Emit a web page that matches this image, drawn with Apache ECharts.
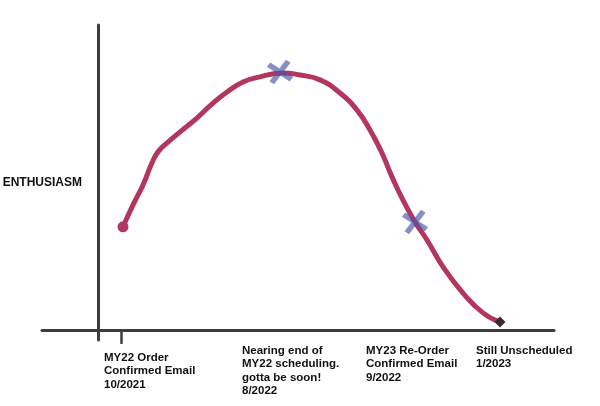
<!DOCTYPE html>
<html>
<head>
<meta charset="utf-8">
<script src="https://cdn.jsdelivr.net/npm/echarts@6/dist/echarts.min.js"></script>
<style>
html, body { margin: 0; padding: 0; background: #fff; }
#chart { width: 600px; height: 406px; }
</style>
</head>
<body>
<div id="chart"></div>
<script>
// enthusiasm curve (x: time-ish units, y: enthusiasm 0-100)
var curveX = [6.25, 8.75, 11.25, 13.5, 15, 17.5, 20.75, 24.5, 28.25, 32.25, 36.25, 40.5, 46.25, 50.5, 55.5, 60.5, 64.75, 68, 71, 73.5, 76.25, 79.25, 82.25, 86.25, 91.25, 96.25, 100.5];
var curveY = [33.8, 41.0, 47.5, 54.8, 58.4, 61.6, 65.2, 69.2, 73.8, 78.0, 81.3, 83.0, 84.3, 83.6, 82.0, 77.7, 72.1, 65.6, 58.0, 50.2, 42.6, 35.4, 29.5, 20.7, 12.1, 5.6, 2.6];

// crossed-out points
var crossX = [45.5, 79.25];
var crossY = [84.6, 35.4];

// milestone labels under the x axis
var milestoneX = [1.5, 36, 67, 94.5];
var milestones = [
    ['MY22 Order', 'Confirmed Email', '10/2021'],
    ['Nearing end of', 'MY22 scheduling.', 'gotta be soon!', '8/2022'],
    ['MY23 Re-Order', 'Confirmed Email', '9/2022'],
    ['Still Unscheduled', '1/2023']
];
var tickX = [5.75];

var lineColor = '#b3365c';

var curveData = curveX.map(function (x, i) {
    var item = { value: [x, curveY[i]] };
    if (i === 0) {
        item.symbol = 'circle';
        item.symbolSize = 11;
    } else if (i === curveX.length - 1) {
        item.symbol = 'diamond';
        item.symbolSize = 11;
        item.itemStyle = { color: '#3a2b33' };
    }
    return item;
});

var option = {
    backgroundColor: '#fff',
    animation: false,
    grid: {
        left: 42,
        right: 46,
        top: 25,
        bottom: 66,
        containLabel: false,
        outerBoundsMode: 'none'
    },
    xAxis: {
        type: 'value',
        min: -14,
        max: 114,
        splitLine: { show: false },
        axisLine: { lineStyle: { color: '#3d3d3d', width: 3 } },
        axisTick: {
            show: true,
            customValues: tickX,
            length: 14,
            lineStyle: { color: '#3d3d3d', width: 2.5 }
        },
        axisLabel: {
            customValues: milestoneX,
            align: 'left',
            margin: 4,
            hideOverlap: false,
            formatter: function (v) {
                var idx = milestoneX.indexOf(v);
                if (idx < 0) return '';
                var lines = milestones[idx].map(function (s) { return '{t|' + s + '}'; });
                if (idx === 0) lines.unshift('{gap| }');
                return lines.join('\n');
            },
            rich: {
                t: {
                    fontFamily: 'Liberation Sans',
                    fontWeight: 'bold',
                    fontSize: 11.5,
                    lineHeight: 13.5,
                    color: '#111'
                },
                gap: { fontSize: 1, lineHeight: 7 }
            }
        }
    },
    yAxis: {
        type: 'value',
        min: -3.3,
        max: 100,
        name: 'ENTHUSIASM',
        nameLocation: 'middle',
        nameRotate: 0,
        nameGap: -40,
        nameTextStyle: {
            fontFamily: 'Liberation Sans',
            fontWeight: 'bold',
            fontSize: 12,
            color: '#111',
            padding: [0, 0, -8, 0]
        },
        splitLine: { show: false },
        axisTick: { show: false },
        axisLabel: { show: false },
        axisLine: { onZero: true, lineStyle: { color: '#3d3d3d', width: 3 } }
    },
    series: [{
        name: 'enthusiasm',
        type: 'line',
        smooth: 0.5,
        symbol: 'none',
        showAllSymbol: true,
        lineStyle: { color: lineColor, width: 5 },
        itemStyle: { color: lineColor },
        data: curveData,
        z: 3
    }, {
        name: 'crossed out',
        type: 'scatter',
        symbol: 'path://M0,2L2,0L12,10L10,12Z M10,0L12,2L2,12L0,10Z',
        symbolSize: [24, 22],
        symbolRotate: 10,
        itemStyle: { color: 'rgba(72,84,170,0.82)' },
        data: crossX.map(function (x, i) { return [x, crossY[i]]; }),
        z: 4
    }]
};

var chart = echarts.init(document.getElementById('chart'));
chart.setOption(option);
</script>
</body>
</html>
